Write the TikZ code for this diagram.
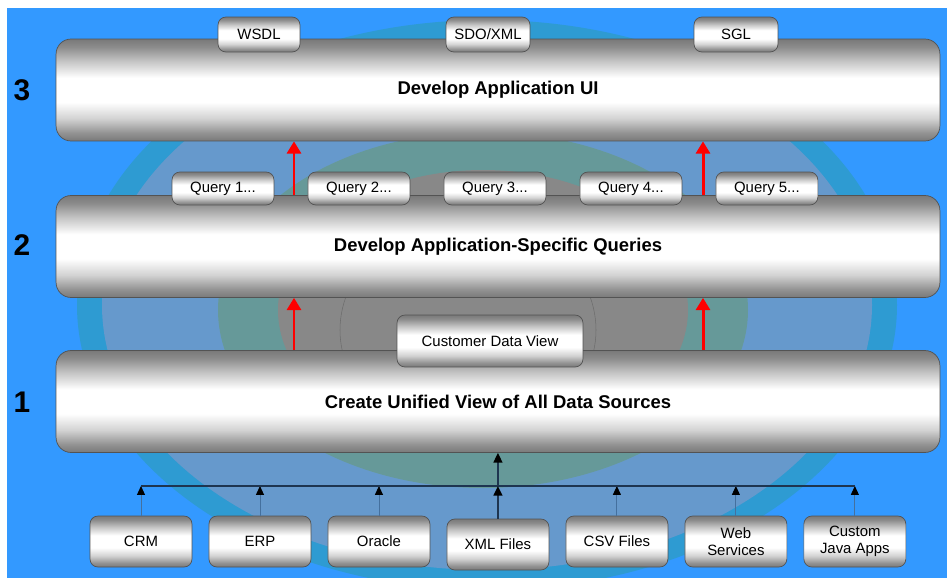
\documentclass[tikz,border=0pt]{standalone}
\usepackage{fontspec}
\setmainfont{Liberation Sans}
\usepackage{xcolor}
\usepackage{tikz}
\usetikzlibrary{arrows.meta}
\usetikzlibrary{positioning}

\definecolor{bgblue}{HTML}{3399FF}
\definecolor{ringteal}{HTML}{2E9BD2}
\definecolor{ringblue}{HTML}{6699CC}
\definecolor{ringgreen}{HTML}{669999}
\definecolor{ringgray}{HTML}{888888}
\definecolor{busline}{HTML}{1E3550}
\definecolor{feedline}{HTML}{44709E}

% tube look of the layer bars and the small tabs
% (the path covers 25bp..75bp of the shading, 25bp at the bottom)
\pgfdeclareverticalshading{tube}{100bp}{color(0bp)=(gray!95!black); color(25bp)=(gray!95!black); color(29bp)=(gray!85); color(36bp)=(gray!35); color(44bp)=(white); color(56bp)=(white); color(64bp)=(gray!45); color(71bp)=(gray!90); color(75bp)=(gray!95!black); color(100bp)=(gray!95!black)}

\begin{document}
\begin{tikzpicture}[x=0.02cm,y=-0.02cm,node distance=2.38cm,
  bar/.style={rectangle,rounded corners=0.3cm,draw=gray!65!black,shading=tube,
    minimum width=17.68cm,minimum height=2.04cm,font=\fontsize{10.5}{12}\selectfont\bfseries},
  tab/.style={rectangle,rounded corners=0.16cm,draw=gray!65!black,shading=tube,
    minimum width=2.04cm,minimum height=0.68cm,inner sep=1pt,align=center,
    font=\fontsize{8.5}{10}\selectfont},
  src/.style={tab,minimum height=1.02cm},
  level/.style={font=\fontsize{17}{19}\selectfont\bfseries},
  up/.style={-{Triangle[width=8pt,length=7pt]},red,line width=1.7pt},
  feed/.style={-{Triangle[width=4.5pt,length=5pt,color=black]},feedline,line width=0.5pt},
  trunk/.style={-{Triangle[width=5pt,length=5.5pt,color=black]},busline,line width=1pt}]

  \useasboundingbox (0,0) rectangle (947,578);
  \fill[bgblue] (7,8) rectangle (947,578);

  % rings behind the layers
  \begin{scope}
    \clip (7,8) rectangle (947,578);
    \fill[ringteal] (487,305) ellipse [x radius=410, y radius=285];
    \fill[ringblue] (487,305) ellipse [x radius=385, y radius=265];
    \fill[ringgreen] (483,310) ellipse [x radius=265, y radius=178];
    \fill[ringgray] (483,310) ellipse [x radius=205, y radius=140];
    \draw[gray!85!black,line width=0.3pt] (468,330) ellipse [x radius=128, y radius=110];
  \end{scope}

  % the three layers
  \node[bar] (ui) at (498,90) {Develop Application UI};
  \node[bar] (queries) at (498,246.5) {Develop Application-Specific Queries};
  \node[bar] (unified) at (498,401.5) {Create Unified View of All Data Sources};

  \node[level] (n3) at (22,90) {3};
  \node[level] (n2) at (22,245) {2};
  \node[level] (n1) at (22,402) {1};

  % tabs on top of the layers
  \node[tab,minimum width=1.64cm,minimum height=0.7cm] (wsdl) at (259,34.5) {WSDL};
  \node[tab,minimum width=1.68cm,minimum height=0.7cm] (sdo) at (488,34.5) {SDO/XML};
  \node[tab,minimum width=1.68cm,minimum height=0.7cm] (sgl) at (736,34.5) {SGL};

  \begin{scope}[node distance=2.72cm]
    \node[tab,minimum height=0.66cm] (q1) at (223,188.5) {Query 1...};
    \node[tab,minimum height=0.66cm] (q2) [right of=q1] {Query 2...};
    \node[tab,minimum height=0.66cm] (q3) [right of=q2] {Query 3...};
    \node[tab,minimum height=0.66cm] (q4) [right of=q3] {Query 4...};
    \node[tab,minimum height=0.66cm] (q5) [right of=q4] {Query 5...};
  \end{scope}

  \node[tab,minimum width=3.72cm,minimum height=1.04cm] (cdv) at (490,341) {Customer Data View};

  % data sources
  \node[src] (crm) at (141,541.5) {CRM};
  \node[src] (erp) [right of=crm] {ERP};
  \node[src] (oracle) [right of=erp] {Oracle};
  \node[src,yshift=-0.06cm] (xml) [right of=oracle] {XML Files};
  \node[src] (csv) [right of=xml,yshift=0.06cm] {CSV Files};
  \node[src] (web) [right of=csv] {Web\\Services};
  \node[src] (java) [right of=web] {Custom\\Java Apps};

  % red lifts between the layers
  \coordinate (lifta) at (294,0);
  \coordinate (liftb) at (703,0);
  \draw[up] (unified.north -| lifta) -- (queries.south -| lifta);
  \draw[up] (unified.north -| liftb) -- (queries.south -| liftb);
  \draw[up] (queries.north -| lifta) -- (ui.south -| lifta);
  \draw[up] (queries.north -| liftb) -- (ui.south -| liftb);

  % source bus
  \coordinate (bus) at (0,486);
  \foreach \s in {crm,erp,oracle,csv,web,java}
    \draw[feed] (\s.north) -- (\s.north |- bus);
  \draw[busline,line width=1pt] (crm.north |- bus) -- (java.north |- bus);
  \draw[trunk] (xml.north) -- (xml.north |- bus);
  \draw[trunk] (xml.north |- bus) -- (unified.south -| xml.north);
\end{tikzpicture}
\end{document}
